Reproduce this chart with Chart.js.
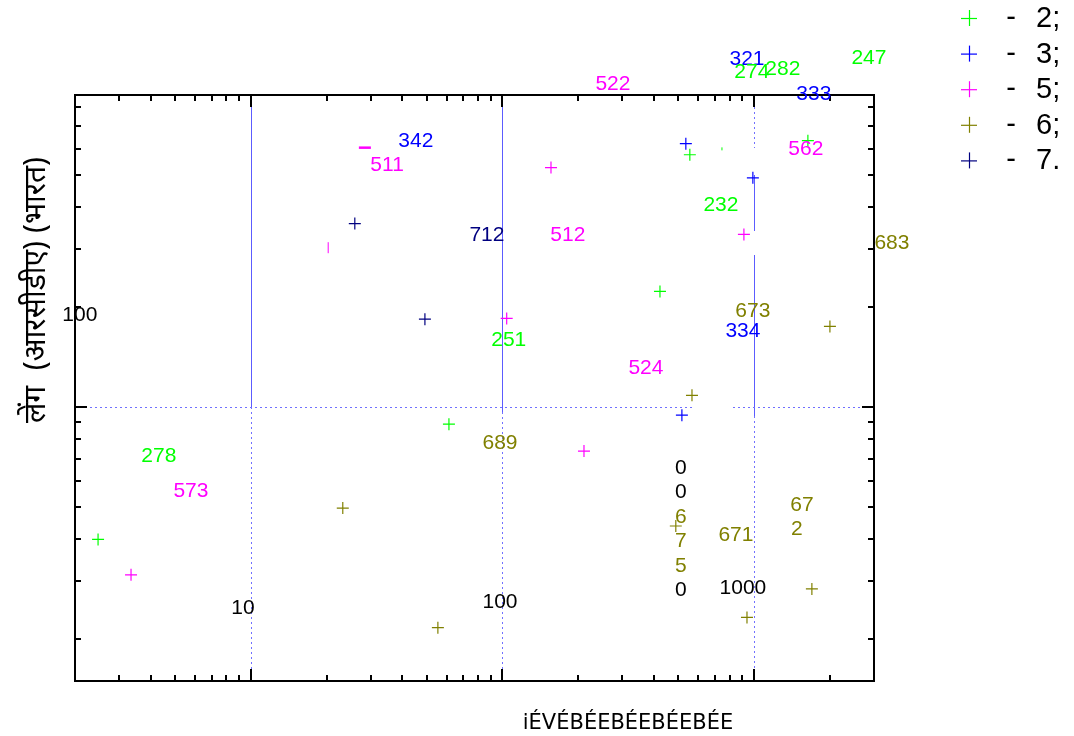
<!DOCTYPE html>
<html>
<head>
<meta charset="utf-8">
<script src="https://cdn.jsdelivr.net/npm/chart.js@4.4.1/dist/chart.umd.min.js"></script>
<style>
html, body { margin: 0; padding: 0; background: #fff; }
#wrap { width: 1074px; height: 736px; position: relative; }
</style>
</head>
<body>
<div id="wrap"><canvas id="myChart"></canvas></div>
<script>
// series (legend order)
const seriesNames = ['2;', '3;', '5;', '6;', '7.'];
const seriesColors = ['#00ff00', '#0000ff', '#ff00ff', '#808000', '#000080'];

const s2x = [2.47, 61.3, 423, 556, 1638];
const s2y = [40, 88.9, 223, 575, 634];
const s3x = [536, 990, 517];
const s3y = [621, 490, 94.6];
const s5x = [3.34, 104, 156, 211, 912];
const s5y = [31.3, 185, 526, 73.8, 331];
const s6x = [23.2, 55.4, 567, 489, 938, 1699, 2004];
const s6y = [49.7, 21.7, 108.6, 43.9, 23.3, 28.4, 175];
const s7x = [25.9, 49.2];
const s7y = [357, 184];

// broken marks (pieces of crosses)
const fragX = [28.4, 20.3, 746];
const fragY = [604, 302, 599];
const fragSeries = [2, 2, 0];

// point labels, series index -1 = black
const labelText = ['278', '573', '342', '511', '712', '512', '251', '689', '524', '673', '334',
    '232', '562', '333', '321', '274', '282', '247', '522', '683', '671', '67', '2',
    '0', '0', '6', '7', '5', '0'];
const labelX = [4.31, 5.78, 45.3, 34.8, 86.8, 182, 106, 97.8, 372, 990, 904,
    739, 1608, 1730, 938, 981, 1303, 2864, 275, 3534, 848, 1551, 1481,
    512, 512, 512, 512, 512, 512];
const labelY = [72.3, 56.7, 642, 544, 335, 335, 161, 79, 132.8, 197, 171.5,
    410, 604, 889, 1133, 1035, 1057, 1140, 953, 315, 41.8, 51.5, 43.6,
    66.5, 56.3, 47.4, 40.2, 33.8, 28.6];
const labelSeries = [0, 2, 1, 2, 4, 2, 0, 3, 2, 3, 1,
    0, 2, 1, 1, 0, 0, 0, 2, 3, 3, 3, 3,
    -1, -1, 3, 3, 3, -1];

// tick labels as they show up in the plot
const tickText = ['10', '100', '1000', '100'];
const tickX = [9.31, 97.8, 904, 2.09];
const tickY = [25.1, 26.2, 29.0, 191.6];

const xMajor = [10, 100, 1000];
const yMajor = [100];

const xTitle = 'iÉVÉBÉEBÉEBÉEBÉE';
const yTitle = 'लेंग  (आरसीडीए) (भारत)';

function pts(xs, ys) {
    return xs.map((v, i) => ({ x: v, y: ys[i] }));
}

const allX = [s2x, s3x, s5x, s6x, s7x];
const allY = [s2y, s3y, s5y, s6y, s7y];

let datasets = allX.map((xs, i) => ({
    label: seriesNames[i],
    data: pts(xs, allY[i]),
    pointStyle: 'cross',
    radius: 6,
    borderWidth: 1.2,
    borderColor: seriesColors[i],
    backgroundColor: seriesColors[i],
    showLine: false
}));

// dash, bar and small tick
const fragStyle = [
    { rotation: 0, radius: 6, borderWidth: 2.5 },
    { rotation: 90, radius: 5.5, borderWidth: 1 },
    { rotation: 90, radius: 1.5, borderWidth: 1 }
];
fragX.forEach((v, i) => {
    datasets.push({
        label: '',
        data: [{ x: v, y: fragY[i] }],
        pointStyle: 'line',
        rotation: fragStyle[i].rotation,
        radius: fragStyle[i].radius,
        borderWidth: fragStyle[i].borderWidth,
        borderColor: seriesColors[fragSeries[i]],
        showLine: false
    });
});

function minorTicks(lo, hi) {
    const out = [];
    for (let k = -1; k < 5; k++) {
        for (let m = 2; m <= 9; m++) {
            const v = m * Math.pow(10, k);
            if (v > lo * 1.001 && v < hi * 0.999) out.push(v);
        }
    }
    return out;
}

function seg(ctx, x1, y1, x2, y2) {
    ctx.beginPath();
    ctx.moveTo(x1, y1);
    ctx.lineTo(x2, y2);
    ctx.stroke();
}

const gnuplotLook = {
    id: 'gnuplotLook',
    beforeDatasetsDraw(chart) {
        const ctx = chart.ctx, xs = chart.scales.x, ys = chart.scales.y;
        const X = v => Math.round(xs.getPixelForValue(v)) + 0.5;
        const Y = v => Math.round(ys.getPixelForValue(v)) + 0.5;
        const Xi = v => Math.round(xs.getPixelForValue(v));
        const Yi = v => Math.round(ys.getPixelForValue(v));
        ctx.save();
        ctx.lineWidth = 1;
        // solid parts of the grid
        ctx.strokeStyle = '#5c5cff';
        [[10, 870, 100], [100, 870, 97], [1000, 501, 340], [1000, 288, 94]].forEach(s => {
            seg(ctx, X(s[0]), Yi(s[1]), X(s[0]), Yi(s[2]));
        });
        // dotted parts
        ctx.strokeStyle = '#7070ff';
        ctx.setLineDash([2, 3]);
        [[10, 100, 15], [100, 97, 15], [1000, 94, 15], [1000, 801, 604]].forEach(s => {
            seg(ctx, X(s[0]), Yi(s[1]), X(s[0]), Yi(s[2]));
        });
        [[2.1, 582], [824, 2636]].forEach(s => {
            seg(ctx, Xi(s[0]), Y(100), Xi(s[1]), Y(100));
        });
        ctx.restore();
    },
    afterDatasetsDraw(chart) {
        const ctx = chart.ctx, xs = chart.scales.x, ys = chart.scales.y, a = chart.chartArea;
        ctx.save();
        ctx.strokeStyle = '#000';
        ctx.lineWidth = 2;
        ctx.strokeRect(a.left, a.top, a.right - a.left, a.bottom - a.top);

        // ticks on all four sides, pointing in
        const xTicks = xMajor.map(v => [v, 12]).concat(minorTicks(2, 3000).map(v => [v, 6]));
        xTicks.forEach(t => {
            const px = Math.round(xs.getPixelForValue(t[0]));
            seg(ctx, px, a.bottom, px, a.bottom - t[1]);
            seg(ctx, px, a.top, px, a.top + t[1]);
        });
        const yTicks = yMajor.map(v => [v, 12]).concat(minorTicks(15, 870).map(v => [v, 6]));
        yTicks.forEach(t => {
            const py = Math.round(ys.getPixelForValue(t[0]));
            seg(ctx, a.left, py, a.left + t[1], py);
            seg(ctx, a.right, py, a.right - t[1], py);
        });

        // labels
        ctx.textAlign = 'center';
        ctx.textBaseline = 'middle';
        ctx.font = '21px "Liberation Sans", Arial, sans-serif';
        labelText.forEach((t, i) => {
            ctx.fillStyle = labelSeries[i] < 0 ? '#000' : seriesColors[labelSeries[i]];
            ctx.fillText(t, xs.getPixelForValue(labelX[i]), ys.getPixelForValue(labelY[i]) + 2);
        });
        ctx.fillStyle = '#000';
        tickText.forEach((t, i) => {
            ctx.fillText(t, xs.getPixelForValue(tickX[i]), ys.getPixelForValue(tickY[i]) + 2);
        });

        // axis titles
        ctx.font = '21px "DejaVu Sans", sans-serif';
        ctx.fillText(xTitle, 628, a.bottom + 43);
        ctx.save();
        ctx.translate(36, 290);
        ctx.rotate(-Math.PI / 2);
        ctx.font = '30px "Noto Sans", "Noto Sans Devanagari", sans-serif';
        ctx.fillText(yTitle, 0, 0);
        ctx.restore();

        // key
        ctx.font = '29px "Liberation Sans", Arial, sans-serif';
        seriesNames.forEach((n, i) => {
            const y = 18 + i * 35.6;
            ctx.strokeStyle = seriesColors[i];
            ctx.lineWidth = 1.2;
            seg(ctx, 961, y + 0.5, 977, y + 0.5);
            seg(ctx, 969.5, y - 8, 969.5, y + 8);
            ctx.fillStyle = '#000';
            ctx.textAlign = 'center';
            ctx.fillText('-', 1011, y);
            ctx.textAlign = 'left';
            ctx.fillText(n, 1036, y + 1);
        });
        ctx.restore();
    }
};

new Chart(document.getElementById('myChart'), {
    type: 'scatter',
    data: { datasets: datasets },
    options: {
        responsive: true,
        maintainAspectRatio: false,
        animation: false,
        layout: { padding: { left: 75, right: 200, top: 95, bottom: 55 } },
        scales: {
            x: { type: 'logarithmic', min: 2, max: 3000, display: false },
            y: { type: 'logarithmic', min: 15, max: 870, display: false }
        },
        plugins: {
            legend: { display: false },
            tooltip: { enabled: false }
        }
    },
    plugins: [gnuplotLook]
});
</script>
</body>
</html>
